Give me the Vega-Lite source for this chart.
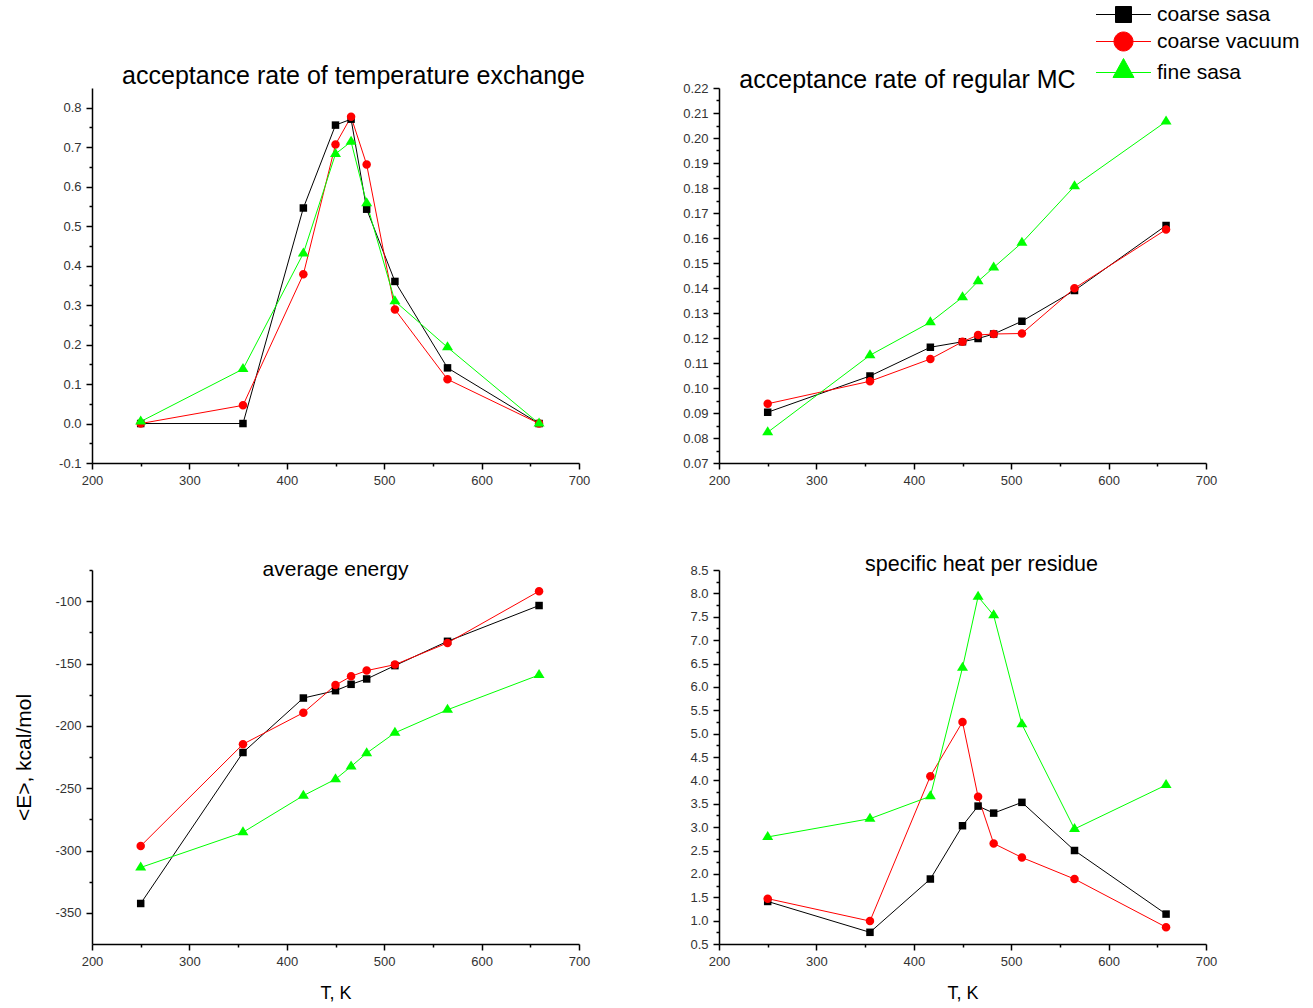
{
  "$schema": "https://vega.github.io/schema/vega-lite/v6.json",
  "padding": {"left": 13, "top": 0, "right": 5, "bottom": 5},
  "background": "white",
  "config": {
    "font": "Liberation Sans",
    "view": {"stroke": null},
    "axis": {"domainColor": "#000", "domainWidth": 1.5, "tickColor": "#000", "tickWidth": 1.5, "labelFont": "Liberation Sans", "labelFontSize": 13, "labelColor": "#333", "labelPadding": 5, "grid": false, "titleFont": "Liberation Sans", "titleFontWeight": "normal", "titleColor": "#000", "labelOverlap": false, "labelFlush": false},
    "title": {"font": "Liberation Sans", "fontWeight": "normal", "color": "#000", "baseline": "alphabetic", "frame": "group", "anchor": "middle"},
    "legend": {"orient": "none", "legendX": 1004, "legendY": -88, "title": null, "symbolSize": 784, "symbolOffset": 13, "symbolStrokeWidth": 1, "symbolOpacity": 1, "labelFontSize": 21, "labelFont": "Liberation Sans", "labelColor": "#000", "labelOffset": 19, "rowPadding": 2, "padding": 0}
  },
  "data": {"values": [
    {"p":"a","T":250,"s":"coarse sasa","v":0.0},{"p":"a","T":355,"s":"coarse sasa","v":0.0},{"p":"a","T":417,"s":"coarse sasa","v":0.546},{"p":"a","T":450,"s":"coarse sasa","v":0.756},{"p":"a","T":466,"s":"coarse sasa","v":0.771},{"p":"a","T":482,"s":"coarse sasa","v":0.543},{"p":"a","T":511,"s":"coarse sasa","v":0.36},{"p":"a","T":565,"s":"coarse sasa","v":0.141},{"p":"a","T":659,"s":"coarse sasa","v":0.0},
    {"p":"a","T":250,"s":"coarse vacuum","v":0.0},{"p":"a","T":355,"s":"coarse vacuum","v":0.046},{"p":"a","T":417,"s":"coarse vacuum","v":0.378},{"p":"a","T":450,"s":"coarse vacuum","v":0.707},{"p":"a","T":466,"s":"coarse vacuum","v":0.777},{"p":"a","T":482,"s":"coarse vacuum","v":0.656},{"p":"a","T":511,"s":"coarse vacuum","v":0.289},{"p":"a","T":565,"s":"coarse vacuum","v":0.112},{"p":"a","T":659,"s":"coarse vacuum","v":0.0},
    {"p":"a","T":250,"s":"fine sasa","v":0.005},{"p":"a","T":355,"s":"fine sasa","v":0.138},{"p":"a","T":417,"s":"fine sasa","v":0.431},{"p":"a","T":450,"s":"fine sasa","v":0.683},{"p":"a","T":466,"s":"fine sasa","v":0.714},{"p":"a","T":482,"s":"fine sasa","v":0.558},{"p":"a","T":511,"s":"fine sasa","v":0.31},{"p":"a","T":565,"s":"fine sasa","v":0.193},{"p":"a","T":659,"s":"fine sasa","v":0.0},
    {"p":"b","T":250,"s":"coarse sasa","v":0.0903},{"p":"b","T":355,"s":"coarse sasa","v":0.1048},{"p":"b","T":417,"s":"coarse sasa","v":0.1163},{"p":"b","T":450,"s":"coarse sasa","v":0.1185},{"p":"b","T":466,"s":"coarse sasa","v":0.1198},{"p":"b","T":482,"s":"coarse sasa","v":0.1216},{"p":"b","T":511,"s":"coarse sasa","v":0.1267},{"p":"b","T":565,"s":"coarse sasa","v":0.139},{"p":"b","T":659,"s":"coarse sasa","v":0.165},
    {"p":"b","T":250,"s":"coarse vacuum","v":0.0937},{"p":"b","T":355,"s":"coarse vacuum","v":0.1027},{"p":"b","T":417,"s":"coarse vacuum","v":0.1116},{"p":"b","T":450,"s":"coarse vacuum","v":0.1185},{"p":"b","T":466,"s":"coarse vacuum","v":0.1212},{"p":"b","T":482,"s":"coarse vacuum","v":0.1216},{"p":"b","T":511,"s":"coarse vacuum","v":0.1218},{"p":"b","T":565,"s":"coarse vacuum","v":0.1399},{"p":"b","T":659,"s":"coarse vacuum","v":0.1634},
    {"p":"b","T":250,"s":"fine sasa","v":0.0823},{"p":"b","T":355,"s":"fine sasa","v":0.1131},{"p":"b","T":417,"s":"fine sasa","v":0.1263},{"p":"b","T":450,"s":"fine sasa","v":0.1363},{"p":"b","T":466,"s":"fine sasa","v":0.1427},{"p":"b","T":482,"s":"fine sasa","v":0.1482},{"p":"b","T":511,"s":"fine sasa","v":0.1581},{"p":"b","T":565,"s":"fine sasa","v":0.1807},{"p":"b","T":659,"s":"fine sasa","v":0.2066},
    {"p":"c","T":250,"s":"coarse sasa","v":-342.5},{"p":"c","T":355,"s":"coarse sasa","v":-221.4},{"p":"c","T":417,"s":"coarse sasa","v":-177.7},{"p":"c","T":450,"s":"coarse sasa","v":-171.8},{"p":"c","T":466,"s":"coarse sasa","v":-166.7},{"p":"c","T":482,"s":"coarse sasa","v":-162.4},{"p":"c","T":511,"s":"coarse sasa","v":-151.7},{"p":"c","T":565,"s":"coarse sasa","v":-132.2},{"p":"c","T":659,"s":"coarse sasa","v":-103.5},
    {"p":"c","T":250,"s":"coarse vacuum","v":-296.4},{"p":"c","T":355,"s":"coarse vacuum","v":-214.7},{"p":"c","T":417,"s":"coarse vacuum","v":-189.5},{"p":"c","T":450,"s":"coarse vacuum","v":-167.3},{"p":"c","T":466,"s":"coarse vacuum","v":-160.3},{"p":"c","T":482,"s":"coarse vacuum","v":-155.7},{"p":"c","T":511,"s":"coarse vacuum","v":-150.9},{"p":"c","T":565,"s":"coarse vacuum","v":-133.5},{"p":"c","T":659,"s":"coarse vacuum","v":-92.0},
    {"p":"c","T":250,"s":"fine sasa","v":-313.6},{"p":"c","T":355,"s":"fine sasa","v":-285.4},{"p":"c","T":417,"s":"fine sasa","v":-256.0},{"p":"c","T":450,"s":"fine sasa","v":-242.8},{"p":"c","T":466,"s":"fine sasa","v":-232.6},{"p":"c","T":482,"s":"fine sasa","v":-221.9},{"p":"c","T":511,"s":"fine sasa","v":-205.6},{"p":"c","T":565,"s":"fine sasa","v":-187.1},{"p":"c","T":659,"s":"fine sasa","v":-159.2},
    {"p":"d","T":250,"s":"coarse sasa","v":1.41},{"p":"d","T":355,"s":"coarse sasa","v":0.75},{"p":"d","T":417,"s":"coarse sasa","v":1.89},{"p":"d","T":450,"s":"coarse sasa","v":3.03},{"p":"d","T":466,"s":"coarse sasa","v":3.45},{"p":"d","T":482,"s":"coarse sasa","v":3.30},{"p":"d","T":511,"s":"coarse sasa","v":3.53},{"p":"d","T":565,"s":"coarse sasa","v":2.50},{"p":"d","T":659,"s":"coarse sasa","v":1.14},
    {"p":"d","T":250,"s":"coarse vacuum","v":1.47},{"p":"d","T":355,"s":"coarse vacuum","v":0.99},{"p":"d","T":417,"s":"coarse vacuum","v":4.09},{"p":"d","T":450,"s":"coarse vacuum","v":5.25},{"p":"d","T":466,"s":"coarse vacuum","v":3.65},{"p":"d","T":482,"s":"coarse vacuum","v":2.65},{"p":"d","T":511,"s":"coarse vacuum","v":2.35},{"p":"d","T":565,"s":"coarse vacuum","v":1.89},{"p":"d","T":659,"s":"coarse vacuum","v":0.86},
    {"p":"d","T":250,"s":"fine sasa","v":2.79},{"p":"d","T":355,"s":"fine sasa","v":3.18},{"p":"d","T":417,"s":"fine sasa","v":3.66},{"p":"d","T":450,"s":"fine sasa","v":6.41},{"p":"d","T":466,"s":"fine sasa","v":7.93},{"p":"d","T":482,"s":"fine sasa","v":7.53},{"p":"d","T":511,"s":"fine sasa","v":5.20},{"p":"d","T":565,"s":"fine sasa","v":2.96},{"p":"d","T":659,"s":"fine sasa","v":3.90}
  ]},
  "columns": 2,
  "spacing": {"row": 107, "column": 140},
  "bounds": "flush",
  "resolve": {"scale": {"color": "shared", "shape": "shared"}, "legend": {"color": "shared", "shape": "shared"}},
  "concat": [
    {
      "title": {"text": "acceptance rate of temperature exchange", "fontSize": 25, "offset": -1, "dx": 18},
      "width": 487, "height": 375,
      "transform": [{"filter": "datum.p === 'a'"}],
      "encoding": {
        "x": {"field": "T", "type": "quantitative", "scale": {"domain": [200, 700], "nice": false, "zero": false},
              "axis": {"title": null, "values": [200,250,300,350,400,450,500,550,600,650,700], "labelExpr": "datum.value % 100 === 0 ? datum.label : ''", "tickSize": {"condition": {"test": "datum.value % 100 === 0", "value": 6}, "value": 3}}},
        "y": {"field": "v", "type": "quantitative", "scale": {"domain": [-0.1, 0.85], "nice": false, "zero": false},
              "axis": {"title": null, "values": [-0.1,-0.05,0,0.05,0.1,0.15,0.2,0.25,0.3,0.35,0.4,0.45,0.5,0.55,0.6,0.65,0.7,0.75,0.8], "labelExpr": "abs(datum.value*10 - round(datum.value*10)) < 0.001 ? replace(format(datum.value, '.1f'), '\u2212', '-') : ''", "tickSize": {"condition": {"test": "abs(datum.value*10 - round(datum.value*10)) < 0.001", "value": 6}, "value": 3}}}
      },
      "layer": [
        {"mark": {"type": "line", "strokeWidth": 1},
         "encoding": {"color": {"field": "s", "type": "nominal", "scale": {"domain": ["coarse sasa", "coarse vacuum", "fine sasa"], "range": ["#000000", "#ff0000", "#00ff00"]}}}},
        {"transform": [{"filter": "datum.s === 'coarse sasa'"}], "mark": {"type": "point", "filled": true, "opacity": 1, "size": 100, "color": "#000000", "shape": "M-0.75,-0.75H0.75V0.75H-0.75Z"}},
        {"transform": [{"filter": "datum.s === 'coarse vacuum'"}], "mark": {"type": "point", "filled": true, "opacity": 1, "size": 100, "color": "#ff0000", "shape": "M0.85,0C0.85,0.469 0.469,0.85 0,0.85C-0.469,0.85 -0.85,0.469 -0.85,0C-0.85,-0.469 -0.469,-0.85 0,-0.85C0.469,-0.85 0.85,-0.469 0.85,0Z"}},
        {"transform": [{"filter": "datum.s === 'fine sasa'"}], "mark": {"type": "point", "filled": true, "opacity": 1, "size": 100, "color": "#00ff00", "shape": "M0,-1.2L1.1,0.6L-1.1,0.6Z"}},
        {"mark": {"type": "point", "filled": true, "opacity": 0},
         "encoding": {"color": {"field": "s", "type": "nominal", "scale": {"domain": ["coarse sasa", "coarse vacuum", "fine sasa"], "range": ["#000000", "#ff0000", "#00ff00"]}},
                      "shape": {"field": "s", "type": "nominal", "scale": {"domain": ["coarse sasa", "coarse vacuum", "fine sasa"], "range": ["M-1.964,0H1.964M-0.571,-0.571H0.571V0.571H-0.571Z", "M-1.964,0H1.964M0.679,0C0.679,0.375 0.375,0.679 0,0.679C-0.375,0.679 -0.679,0.375 -0.679,0C-0.679,-0.375 -0.375,-0.679 0,-0.679C0.375,-0.679 0.679,-0.375 0.679,0Z", "M-1.964,0H1.964M0,-1.0L0.75,0.357L-0.75,0.357Z"]}}}}
      ]
    },
    {
      "title": {"text": "acceptance rate of regular MC", "fontSize": 25, "offset": -11, "dx": -55},
      "width": 487, "height": 375,
      "transform": [{"filter": "datum.p === 'b'"}],
      "encoding": {
        "x": {"field": "T", "type": "quantitative", "scale": {"domain": [200, 700], "nice": false, "zero": false},
              "axis": {"title": null, "values": [200,250,300,350,400,450,500,550,600,650,700], "labelExpr": "datum.value % 100 === 0 ? datum.label : ''", "tickSize": {"condition": {"test": "datum.value % 100 === 0", "value": 6}, "value": 3}}},
        "y": {"field": "v", "type": "quantitative", "scale": {"domain": [0.07, 0.22], "nice": false, "zero": false},
              "axis": {"title": null, "values": [0.07,0.075,0.08,0.085,0.09,0.095,0.1,0.105,0.11,0.115,0.12,0.125,0.13,0.135,0.14,0.145,0.15,0.155,0.16,0.165,0.17,0.175,0.18,0.185,0.19,0.195,0.2,0.205,0.21,0.215,0.22], "labelExpr": "abs(datum.value*100 - round(datum.value*100)) < 0.001 ? format(datum.value, '.2f') : ''", "tickSize": {"condition": {"test": "abs(datum.value*100 - round(datum.value*100)) < 0.001", "value": 6}, "value": 3}}}
      },
      "layer": [
        {"mark": {"type": "line", "strokeWidth": 1},
         "encoding": {"color": {"field": "s", "type": "nominal", "scale": {"domain": ["coarse sasa", "coarse vacuum", "fine sasa"], "range": ["#000000", "#ff0000", "#00ff00"]}}}},
        {"transform": [{"filter": "datum.s === 'coarse sasa'"}], "mark": {"type": "point", "filled": true, "opacity": 1, "size": 100, "color": "#000000", "shape": "M-0.75,-0.75H0.75V0.75H-0.75Z"}},
        {"transform": [{"filter": "datum.s === 'coarse vacuum'"}], "mark": {"type": "point", "filled": true, "opacity": 1, "size": 100, "color": "#ff0000", "shape": "M0.85,0C0.85,0.469 0.469,0.85 0,0.85C-0.469,0.85 -0.85,0.469 -0.85,0C-0.85,-0.469 -0.469,-0.85 0,-0.85C0.469,-0.85 0.85,-0.469 0.85,0Z"}},
        {"transform": [{"filter": "datum.s === 'fine sasa'"}], "mark": {"type": "point", "filled": true, "opacity": 1, "size": 100, "color": "#00ff00", "shape": "M0,-1.2L1.1,0.6L-1.1,0.6Z"}}
      ]
    },
    {
      "title": {"text": "average energy", "fontSize": 21, "offset": -16},
      "width": 487, "height": 374,
      "transform": [{"filter": "datum.p === 'c'"}],
      "encoding": {
        "x": {"field": "T", "type": "quantitative", "scale": {"domain": [200, 700], "nice": false, "zero": false},
              "axis": {"title": "T, K", "titleFontSize": 18, "titlePadding": 16, "values": [200,250,300,350,400,450,500,550,600,650,700], "labelExpr": "datum.value % 100 === 0 ? datum.label : ''", "tickSize": {"condition": {"test": "datum.value % 100 === 0", "value": 6}, "value": 3}}},
        "y": {"field": "v", "type": "quantitative", "scale": {"domain": [-375, -75], "nice": false, "zero": false},
              "axis": {"title": "<E>,  kcal/mol", "titleFontSize": 21, "titlePadding": 20, "values": [-350,-325,-300,-275,-250,-225,-200,-175,-150,-125,-100,-75], "labelExpr": "datum.value % 50 === 0 ? replace(format(datum.value, 'd'), '\u2212', '-') : ''", "tickSize": {"condition": {"test": "datum.value % 50 === 0", "value": 6}, "value": 3}}}
      },
      "layer": [
        {"mark": {"type": "line", "strokeWidth": 1},
         "encoding": {"color": {"field": "s", "type": "nominal", "scale": {"domain": ["coarse sasa", "coarse vacuum", "fine sasa"], "range": ["#000000", "#ff0000", "#00ff00"]}}}},
        {"transform": [{"filter": "datum.s === 'coarse sasa'"}], "mark": {"type": "point", "filled": true, "opacity": 1, "size": 100, "color": "#000000", "shape": "M-0.75,-0.75H0.75V0.75H-0.75Z"}},
        {"transform": [{"filter": "datum.s === 'coarse vacuum'"}], "mark": {"type": "point", "filled": true, "opacity": 1, "size": 100, "color": "#ff0000", "shape": "M0.85,0C0.85,0.469 0.469,0.85 0,0.85C-0.469,0.85 -0.85,0.469 -0.85,0C-0.85,-0.469 -0.469,-0.85 0,-0.85C0.469,-0.85 0.85,-0.469 0.85,0Z"}},
        {"transform": [{"filter": "datum.s === 'fine sasa'"}], "mark": {"type": "point", "filled": true, "opacity": 1, "size": 100, "color": "#00ff00", "shape": "M0,-1.2L1.1,0.6L-1.1,0.6Z"}}
      ]
    },
    {
      "title": {"text": "specific heat per residue", "fontSize": 21.5, "offset": -11, "dx": 19},
      "width": 487, "height": 374,
      "transform": [{"filter": "datum.p === 'd'"}],
      "encoding": {
        "x": {"field": "T", "type": "quantitative", "scale": {"domain": [200, 700], "nice": false, "zero": false},
              "axis": {"title": "T, K", "titleFontSize": 18, "titlePadding": 16, "values": [200,250,300,350,400,450,500,550,600,650,700], "labelExpr": "datum.value % 100 === 0 ? datum.label : ''", "tickSize": {"condition": {"test": "datum.value % 100 === 0", "value": 6}, "value": 3}}},
        "y": {"field": "v", "type": "quantitative", "scale": {"domain": [0.5, 8.5], "nice": false, "zero": false},
              "axis": {"title": null, "values": [0.5,0.75,1,1.25,1.5,1.75,2,2.25,2.5,2.75,3,3.25,3.5,3.75,4,4.25,4.5,4.75,5,5.25,5.5,5.75,6,6.25,6.5,6.75,7,7.25,7.5,7.75,8,8.25,8.5], "labelExpr": "abs(datum.value*2 - round(datum.value*2)) < 0.001 ? format(datum.value, '.1f') : ''", "tickSize": {"condition": {"test": "abs(datum.value*2 - round(datum.value*2)) < 0.001", "value": 6}, "value": 3}}}
      },
      "layer": [
        {"mark": {"type": "line", "strokeWidth": 1},
         "encoding": {"color": {"field": "s", "type": "nominal", "scale": {"domain": ["coarse sasa", "coarse vacuum", "fine sasa"], "range": ["#000000", "#ff0000", "#00ff00"]}}}},
        {"transform": [{"filter": "datum.s === 'coarse sasa'"}], "mark": {"type": "point", "filled": true, "opacity": 1, "size": 100, "color": "#000000", "shape": "M-0.75,-0.75H0.75V0.75H-0.75Z"}},
        {"transform": [{"filter": "datum.s === 'coarse vacuum'"}], "mark": {"type": "point", "filled": true, "opacity": 1, "size": 100, "color": "#ff0000", "shape": "M0.85,0C0.85,0.469 0.469,0.85 0,0.85C-0.469,0.85 -0.85,0.469 -0.85,0C-0.85,-0.469 -0.469,-0.85 0,-0.85C0.469,-0.85 0.85,-0.469 0.85,0Z"}},
        {"transform": [{"filter": "datum.s === 'fine sasa'"}], "mark": {"type": "point", "filled": true, "opacity": 1, "size": 100, "color": "#00ff00", "shape": "M0,-1.2L1.1,0.6L-1.1,0.6Z"}}
      ]
    }
  ]
}
